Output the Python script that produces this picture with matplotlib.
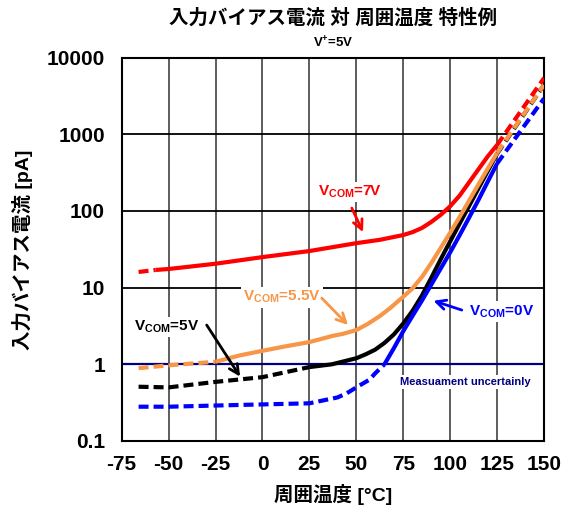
import matplotlib
matplotlib.use("Agg")
import matplotlib.pyplot as plt
import numpy as np

plt.rcParams['font.family'] = ['Liberation Sans', 'Noto Sans CJK JP', 'DejaVu Sans']
plt.rcParams['mathtext.fontset'] = 'custom'
plt.rcParams['mathtext.rm'] = 'Liberation Sans:bold'
plt.rcParams['mathtext.bf'] = 'Liberation Sans:bold'
plt.rcParams['mathtext.it'] = 'Liberation Sans:bold'

# ---- data ----
x_ticks = [-75, -50, -25, 0, 25, 50, 75, 100, 125, 150]
y_ticks = [0.1, 1, 10, 100, 1000, 10000]
y_tick_labels = ["0.1", "1", "10", "100", "1000", "10000"]

# VCOM = 7V (red)
t_7v = [-66, -57, -50, -25, 0, 25, 50, 62.5, 75, 80, 85, 90, 95, 100, 105, 110, 115, 120, 125, 150]
v_7v = [16, 17, 17.5, 20.5, 25, 30, 38, 42, 48.5, 53, 60, 72, 89, 115, 158, 234, 347, 513, 724, 5400]
solid_7v = (-57, 125)

# VCOM = 5.5V (orange)
t_55v = [-66, -50, -25, -12.5, 0, 12.5, 25, 37.5, 43, 50, 56, 62.5, 68, 75, 80, 85, 90, 95, 100,
         105, 110, 115, 120, 125, 150]
v_55v = [0.89, 0.97, 1.08, 1.3, 1.5, 1.72, 1.95, 2.35, 2.5, 2.8, 3.35, 4.25, 5.4, 7.6, 9.8, 13.8,
         21, 33, 52, 83, 135, 220, 355, 570, 4400]
solid_55v = (-25, 125)

# VCOM = 5V (black)
t_5v = [-66, -50, -25, 0, 25, 37, 50, 55, 60, 65, 70, 75, 80, 85, 90, 95, 100, 105, 110,
        115, 120, 125, 150]
v_5v = [0.51, 0.5, 0.59, 0.68, 0.92, 1.0, 1.2, 1.35, 1.55, 1.9, 2.45, 3.4, 5.0, 7.9, 13.5,
        23.5, 40, 68, 115, 195, 330, 556, 4400]
solid_5v = (25, 125)

# VCOM = 0V (blue)
t_0v = [-66, -50, -25, 0, 25, 40, 45, 50, 57, 60, 65, 70, 75, 80, 85, 90, 95, 100, 105,
        110, 115, 120, 125, 150]
v_0v = [0.28, 0.28, 0.29, 0.3, 0.31, 0.37, 0.42, 0.5, 0.63, 0.76, 1.0, 1.62, 2.7, 4.3, 6.8,
        11, 17.8, 28.8, 48, 81, 138, 240, 415, 2930]
solid_0v = (65, 125)

uncert_level = 1

fig = plt.figure(figsize=(5.67, 5.11), dpi=100)
ax = fig.add_axes([0.2146, 0.137, 0.9594 - 0.2146, 0.8873 - 0.137])
ax.set_yscale('log')
ax.set_xlim(-75, 150)
ax.set_ylim(0.1, 10000)

ax.set_xticks(x_ticks)
ax.set_xticklabels([str(v) for v in x_ticks])
ax.set_yticks(y_ticks)
ax.set_yticklabels(y_tick_labels)
ax.yaxis.set_minor_locator(matplotlib.ticker.NullLocator())
ax.tick_params(axis='both', length=0, labelsize=15)
ax.tick_params(axis='x', pad=10)
ax.tick_params(axis='y', pad=12)
for lab in ax.get_xticklabels() + ax.get_yticklabels():
    lab.set_fontweight('bold')

ax.xaxis.grid(True, color='#505050', linewidth=1.3, zorder=0)
ax.yaxis.grid(True, color='black', linewidth=1.3, zorder=0)
ax.set_axisbelow(True)
for sp in ax.spines.values():
    sp.set_linewidth(1.5)
    sp.set_color('black')

ax.axhline(uncert_level, color='#000080', linewidth=1.6, zorder=2)

dash = (0, (2.4, 1.2))


def draw(t, v, solid, color, z):
    t = np.array(t, dtype=float)
    v = np.array(v, dtype=float)
    a, b = solid
    lo = t <= a
    mid = (t >= a) & (t <= b)
    hi = t >= b
    ax.plot(t[lo], v[lo], color=color, lw=3, linestyle=dash, zorder=z,
            dash_capstyle='butt', dash_joinstyle='round')
    ax.plot(t[mid], v[mid], color=color, lw=3, linestyle='-', zorder=z,
            solid_capstyle='butt', solid_joinstyle='round')
    ax.plot(t[hi], v[hi], color=color, lw=3, linestyle=dash, zorder=z,
            dash_capstyle='butt')


draw(t_5v, v_5v, solid_5v, 'black', 3)
draw(t_0v, v_0v, solid_0v, '#0000FF', 4)
draw(t_55v, v_55v, solid_55v, '#F79646', 5)
draw(t_7v, v_7v, solid_7v, '#FF0000', 6)

bbox = dict(facecolor='white', edgecolor='none', pad=1.5)


def label(txt, xy, color, start, end, size=11):
    ax.text(xy[0], xy[1], txt, color=color, fontsize=size, fontweight='bold',
            ha='center', va='center', bbox=bbox, zorder=7)
    ax.annotate('', xy=end, xytext=start,
                arrowprops=dict(arrowstyle='->', color=color, lw=2,
                                mutation_scale=17, shrinkA=0, shrinkB=0),
                zorder=8)


label(r'V$_{\mathrm{COM}}$=7V', (46.7, 176), '#FF0000', (47.6, 109), (53.6, 53))
label(r'V$_{\mathrm{COM}}$=5.5V', (10.2, 7.5), '#F79646', (31.6, 7.3), (45.6, 3.25))
label(r'V$_{\mathrm{COM}}$=5V', (-50.9, 3.06), 'black', (-29.7, 3.25), (-11.9, 0.69))
label(r'V$_{\mathrm{COM}}$=0V', (127.2, 4.88), '#0000FF', (106.2, 5.1), (91.1, 6.74))

ax.text(108, 0.587, 'Measuament uncertainly', color='#000080', fontsize=8,
        fontweight='bold', ha='center', va='center', bbox=bbox, zorder=7)

fig.text(0.587, 0.965, '入力バイアス電流 対 周囲温度 特性例', ha='center', va='center',
         fontsize=14, fontweight='bold')
fig.text(0.587, 0.916, r'V$^{+}$=5V', ha='center', va='center', fontsize=9.5,
         fontweight='bold')
fig.text(0.039, 0.512, '入力バイアス電流 [pA]', rotation=90, ha='center', va='center',
         fontsize=14, fontweight='bold')
fig.text(0.587, 0.033, '周囲温度 [°C]', ha='center', va='center', fontsize=14,
         fontweight='bold')

fig.savefig('out.png', dpi=100)
